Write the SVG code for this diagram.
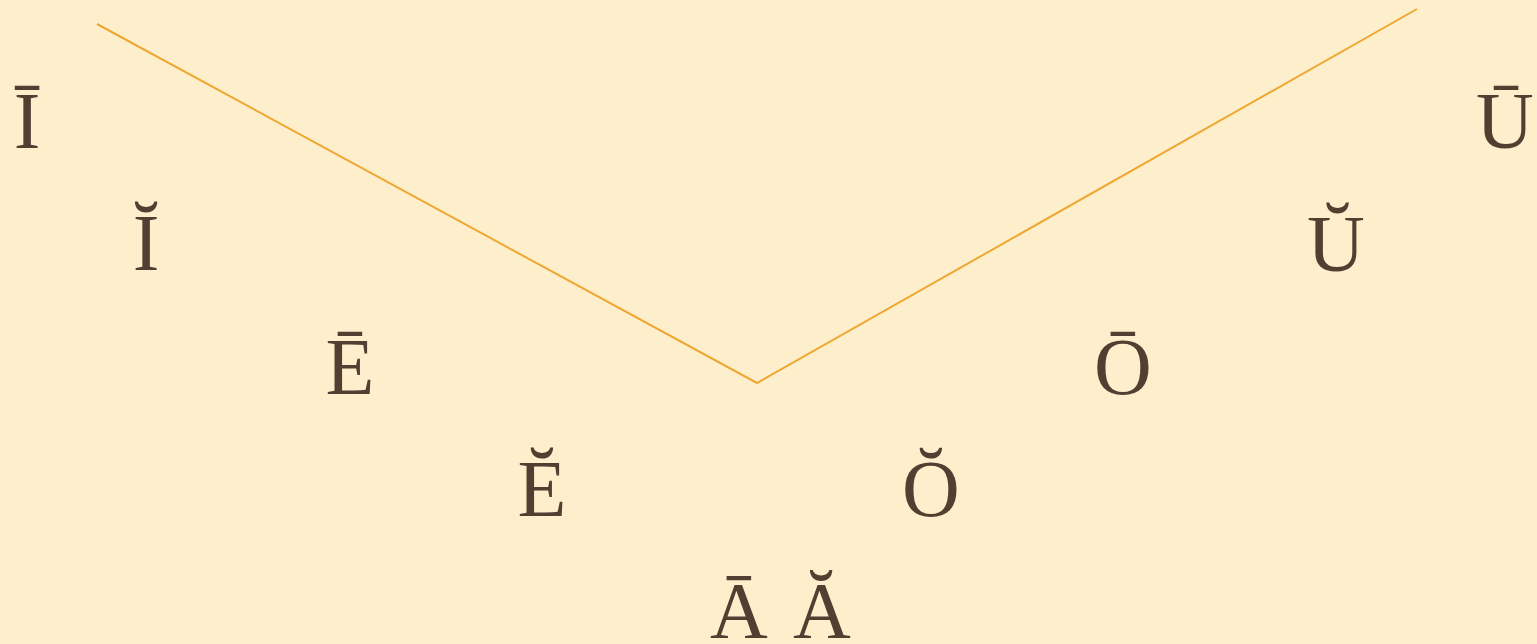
<svg xmlns="http://www.w3.org/2000/svg" width="1537" height="644" viewBox="0 0 1537 644">
<style>
.v{font-family:"Liberation Serif",serif;font-size:80px;fill:#523f31;text-anchor:middle}
.c{fill:none;stroke:#f0a732;stroke-width:2}
</style>
<rect width="1537" height="644" fill="#fdefcc"/>
<g id="connectors"><polyline class="c" points="97,24 757,383 1417,9"/></g>
<g id="n1"><text class="v" x="27" y="148">Ī</text></g>
<g id="n2"><text class="v" x="146" y="270">Ĭ</text></g>
<g id="n3"><text class="v" x="350" y="394">Ē</text></g>
<g id="n4"><text class="v" x="542" y="516">Ĕ</text></g>
<g id="n5"><text class="v" x="739" y="638">Ā</text></g>
<g id="n6"><text class="v" x="822" y="638">Ă</text></g>
<g id="n7"><text class="v" x="931" y="516">Ŏ</text></g>
<g id="n8"><text class="v" x="1123" y="394">Ō</text></g>
<g id="n9"><text class="v" x="1336" y="271">Ŭ</text></g>
<g id="n10"><text class="v" x="1505" y="148">Ū</text></g>
</svg>
